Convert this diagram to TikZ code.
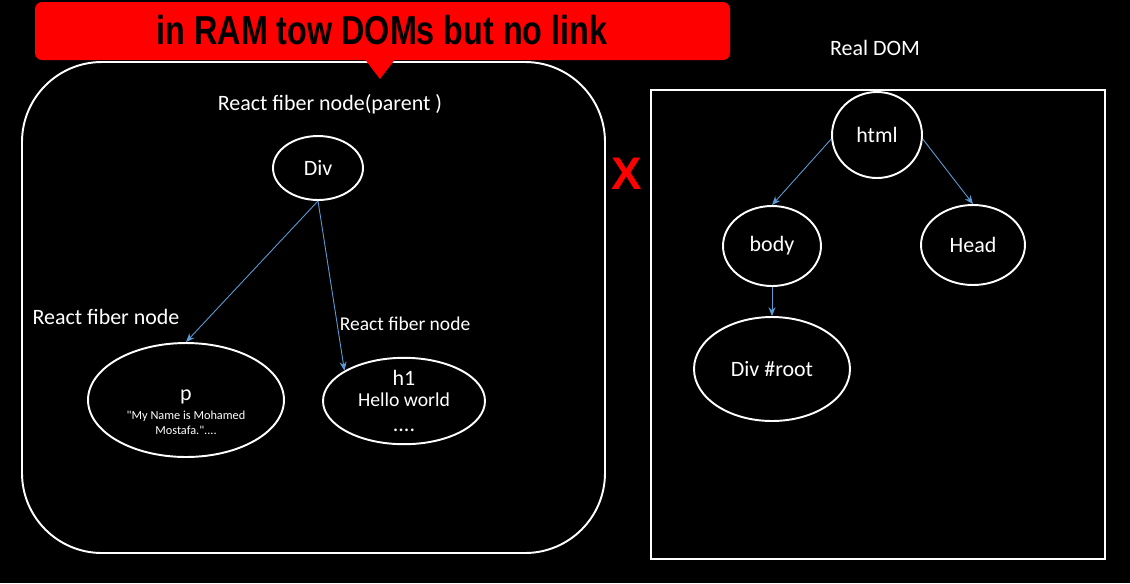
\documentclass[tikz,border=0pt]{standalone}
\usepackage{fontspec}
\setmainfont{Carlito}
\newfontfamily\titlefont{Liberation Sans}
\newfontfamily\plainfont{Carlito}[Ligatures=ResetAll]
\usetikzlibrary{shapes.geometric,arrows.meta,positioning}
\definecolor{linkblue}{RGB}{91,155,213}
\definecolor{calloutred}{RGB}{255,0,0}
\tikzset{
  domnode/.style={ellipse, draw=white, line width=1.1pt, inner sep=0pt, text=white, align=center, font=\fontsize{12.5}{14}\selectfont},
  link/.style={draw=linkblue, line width=0.5pt, -{Stealth[length=5pt,width=4pt]}},
  lbl/.style={text=white, inner sep=0pt, font=\fontsize{12.5}{14}\selectfont},
}

\begin{document}
\begin{tikzpicture}[x=0.02cm, y=-0.02cm]
            % background, 1130 x 583
            \fill[black] (0,0) rectangle (1130,583);
            \useasboundingbox (0,0) rectangle (1130,583);

            % virtual DOM in RAM
            \draw[white, line width=1.1pt, rounded corners=1.6cm] (22,62) rectangle (605,553);
            \node[lbl] (parentlbl) at (330,104) {React fiber node(parent )};
            \node[domnode, minimum width=1.8cm, minimum height=1.28cm] (div) at (318,168) {Div};
            \node[domnode, minimum width=3.92cm, minimum height=2.28cm] (p) at (186,400)
                {\rule{0pt}{20pt}p\\[-3pt]{\plainfont\fontsize{7}{8.5}\selectfont "My Name is Mohamed}\\[-5.5pt]{\plainfont\fontsize{7}{8.5}\selectfont Mostafa."....}};
            \node[domnode, minimum width=3.24cm, minimum height=1.68cm] (h1) at (404,401)
                {h1\\[-2pt]{\fontsize{11.2}{14}\selectfont Hello world}\\[0pt]....};
            \node[lbl] (plbl) at (106,317) {React fiber node};
            \node[lbl, font=\fontsize{11.1}{13}\selectfont] (h1lbl) at (405,324) {React fiber node};
            \draw[link] (div.south) -- (p.north);
            \draw[link] (div.south) -- (h1.153);

            % callout
            \fill[calloutred, rounded corners=4pt] (35,2) rectangle (730,60);
            \fill[calloutred] (364,58) -- (396,58) -- (380,79) -- cycle;
            \node[inner sep=0pt, font=\titlefont\bfseries\fontsize{23}{26}\selectfont] (title) at (382,30)
                {\scalebox{0.8}[1]{in RAM tow DOMs but no link}};

            % no link
            \node[text=calloutred, inner sep=0pt, font=\titlefont\bfseries\fontsize{26}{28}\selectfont] (nolink) at (627,174) {X};

            % real DOM
            \node[lbl] (reallbl) at (875,48) {Real DOM};
            \draw[white, line width=1.1pt] (651,90) rectangle (1105,559);
            \node[domnode, minimum width=1.8cm, minimum height=1.72cm] (html) at (877,135) {html};
            \node[domnode, minimum width=1.96cm, minimum height=1.6cm] (body) at (772,246) {body};
            \node[domnode, minimum width=2.08cm, minimum height=1.6cm] (head) at (973,245) {Head};
            \node[domnode, minimum width=3.12cm, minimum height=2.08cm] (root) at (772,369) {Div \#root};
            \draw[link] (html.185) -- (body.north);
            \draw[link] (html.-5) -- (head.north);
            \draw[link] (body.south) -- (root.north);
        \end{tikzpicture}
\end{document}
